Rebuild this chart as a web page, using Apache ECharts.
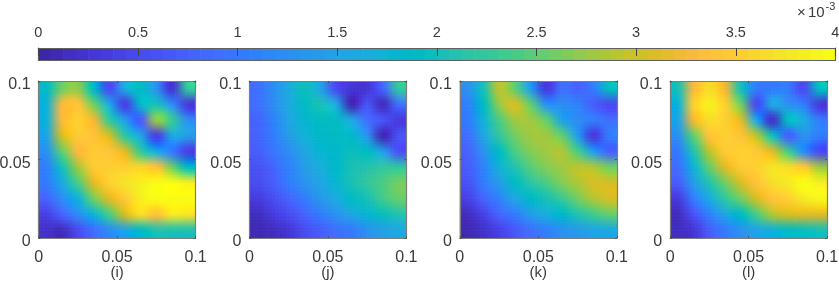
<!DOCTYPE html>
<html>
<head>
<meta charset="utf-8">
<style>html,body{margin:0;padding:0;background:#fff}#c{width:839px;height:281px}</style>
<script src="https://cdn.jsdelivr.net/npm/echarts@6/dist/echarts.min.js"></script>
</head>
<body>
<div id="c"></div>
<script>
// Cell centres (axis units); rows run from the top of the panel down.
const xCenters = [0.005,0.015,0.025,0.035,0.045,0.055,0.065,0.075,0.085,0.095];
const yCenters = [0.095,0.085,0.075,0.065,0.055,0.045,0.035,0.025,0.015,0.005];
const axisTicks = [0,0.05,0.1];
const colorbarTicks = [0,0.5,1,1.5,2,2.5,3,3.5,4];
const panelNames = ['(i)','(j)','(k)','(l)'];

// Values in units of 1e-3.
const panelI = [
[1.9,2.6,2.7,1.9,0.5,1.6,1.9,1.3,0.3,2.2],
[1.7,3.3,3.4,2.6,1.6,0.4,1.8,2.0,1.2,0.35],
[1.7,3.3,3.55,3.2,2.3,1.4,0.7,2.7,2.3,1.2],
[1.5,3.0,3.45,3.4,3.0,2.2,1.5,0.4,1.5,1.4],
[1.3,2.5,3.3,3.45,3.4,3.1,2.3,1.6,1.0,0.4],
[1.1,2.0,2.8,3.45,3.5,3.55,3.6,3.4,2.6,1.9],
[1.0,1.6,2.4,3.1,3.5,3.7,3.85,3.95,3.95,3.85],
[0.8,1.2,1.7,2.6,3.1,3.45,3.85,4.0,4.0,3.95],
[0.4,0.8,1.2,1.7,2.4,3.0,3.65,3.4,3.75,3.7],
[0.2,0.15,0.5,0.9,1.2,1.5,1.9,2.1,2.1,2.1]];
const panelJ = [
[0.9,1.2,1.6,1.95,1.5,0.5,0.3,0.3,0.8,2.2],
[0.9,1.2,1.6,1.9,2.0,1.6,0.1,0.6,0.15,0.9],
[0.8,1.1,1.5,1.8,1.9,1.9,1.5,0.9,0.6,0.35],
[0.75,1.0,1.4,1.7,1.85,1.9,1.85,1.3,0.1,0.6],
[0.7,0.95,1.2,1.5,1.75,1.85,1.95,1.9,1.4,0.6],
[0.6,0.8,1.1,1.4,1.65,1.85,2.0,2.1,2.2,2.2],
[0.5,0.7,1.0,1.25,1.5,1.75,2.0,2.2,2.4,2.6],
[0.35,0.55,0.8,1.05,1.35,1.6,1.9,2.05,2.35,2.55],
[0.15,0.35,0.55,0.8,1.0,1.25,1.5,1.75,1.95,2.1],
[0.1,0.15,0.3,0.5,0.7,0.9,1.05,1.25,1.45,1.6]];
const panelK = [
[1.3,2.0,2.9,2.5,1.4,0.35,0.9,0.8,1.0,1.9],
[1.1,1.9,2.7,3.0,2.5,1.3,1.2,1.1,0.7,0.5],
[1.0,1.7,2.4,2.8,2.8,2.5,1.5,1.2,1.0,0.9],
[0.9,1.5,2.2,2.6,2.75,2.8,2.5,1.4,0.35,1.0],
[0.8,1.3,1.9,2.4,2.65,2.8,2.85,2.4,1.4,0.8],
[0.7,1.1,1.7,2.1,2.45,2.65,2.8,2.9,2.85,2.6],
[0.6,1.0,1.4,1.9,2.15,2.4,2.65,2.85,3.05,3.05],
[0.4,0.75,1.1,1.5,1.85,2.05,2.3,2.6,2.85,3.0],
[0.15,0.4,0.75,1.05,1.4,1.65,1.85,2.1,2.35,2.5],
[0.1,0.2,0.4,0.65,0.9,1.1,1.25,1.4,1.5,1.6]];
const panelL = [
[2.0,3.3,3.65,3.2,2.0,1.0,1.0,1.0,0.5,1.9],
[1.7,3.5,3.85,3.55,2.6,0.5,1.5,1.3,1.0,0.35],
[1.5,3.2,3.65,3.55,3.1,1.5,0.2,1.9,1.6,1.0],
[1.3,2.5,3.4,3.5,3.4,2.9,2.0,0.8,1.3,1.0],
[1.05,2.1,2.9,3.45,3.5,3.45,3.1,2.4,1.2,0.55],
[0.9,1.7,2.5,3.1,3.45,3.55,3.7,3.65,3.45,2.8],
[0.7,1.4,2.1,2.6,3.0,3.4,3.65,3.8,3.95,3.85],
[0.35,1.0,1.6,2.2,2.6,3.0,3.4,3.55,3.8,3.9],
[0.15,0.6,1.1,1.5,1.9,2.4,2.85,3.0,3.1,3.1],
[0.15,0.3,0.7,1.0,1.25,1.5,1.7,1.9,1.95,2.0]];
const panels = [panelI,panelJ,panelK,panelL];

// Colour scale (parula, 64 levels)
const palette = [
[.2422,.1504,.6603],[.2504,.1650,.7076],[.2578,.1818,.7511],[.2647,.1978,.7952],
[.2706,.2147,.8364],[.2751,.2342,.8710],[.2783,.2559,.8991],[.2803,.2782,.9221],
[.2813,.3006,.9414],[.2810,.3228,.9579],[.2795,.3447,.9717],[.2760,.3667,.9829],
[.2699,.3892,.9906],[.2602,.4123,.9952],[.2440,.4358,.9988],[.2206,.4603,.9973],
[.1963,.4847,.9892],[.1834,.5074,.9798],[.1786,.5289,.9682],[.1764,.5499,.9520],
[.1687,.5703,.9359],[.1540,.5902,.9218],[.1460,.6091,.9079],[.1380,.6276,.8973],
[.1248,.6459,.8883],[.1113,.6635,.8763],[.0952,.6798,.8598],[.0689,.6948,.8394],
[.0297,.7082,.8163],[.0036,.7203,.7917],[.0067,.7312,.7660],[.0433,.7411,.7394],
[.0964,.7500,.7120],[.1408,.7584,.6842],[.1717,.7670,.6554],[.1938,.7758,.6251],
[.2161,.7843,.5923],[.2470,.7918,.5567],[.2906,.7973,.5188],[.3406,.8008,.4789],
[.3909,.8029,.4354],[.4456,.8024,.3909],[.5044,.7993,.3480],[.5616,.7942,.3045],
[.6174,.7876,.2612],[.6720,.7793,.2227],[.7242,.7698,.1910],[.7738,.7598,.1646],
[.8203,.7498,.1535],[.8634,.7406,.1596],[.9035,.7330,.1774],[.9393,.7288,.2100],
[.9728,.7298,.2394],[.9956,.7434,.2371],[.9970,.7659,.2199],[.9952,.7893,.2028],
[.9892,.8136,.1885],[.9786,.8386,.1766],[.9676,.8639,.1643],[.9610,.8890,.1537],
[.9597,.9135,.1423],[.9628,.9373,.1265],[.9691,.9606,.1064],[.9769,.9839,.0805]];
const vmax = 4;
function colorOf(v){
  const i = Math.max(0,Math.min(63,Math.floor(v/vmax*64)));
  return palette[i];
}
function css(c){return 'rgb('+Math.round(c[0]*255)+','+Math.round(c[1]*255)+','+Math.round(c[2]*255)+')';}

// Smooth shading of each cell: the image in the original is drawn with
// interpolated pixels, so every data cell paints a fine bicubic RGB gradient
// between the colours of its neighbouring cells.
const SUB = 10;
function cubicWeights(t){
  const t2=t*t,t3=t2*t;
  return [-.5*t3+t2-.5*t, 1.5*t3-2.5*t2+1, -1.5*t3+2*t2+.5*t, .5*t3-.5*t2];
}
function cellRenderer(grid){
  const n = grid.length;
  const colors = grid.map(r=>r.map(colorOf));
  const cl = i=>Math.max(0,Math.min(n-1,i));
  return function(params, api){
    const x = api.value(0), y = api.value(1);
    const r = api.value(3), c = api.value(4);
    const tl = api.coord([x-0.005,y+0.005]);
    const br = api.coord([x+0.005,y-0.005]);
    const w = (br[0]-tl[0])/SUB, h = (br[1]-tl[1])/SUB;
    const children = [];
    for(let j=0;j<SUB;j++){
      const fy = r+(j+.5)/SUB-.5, iy = Math.floor(fy), wy = cubicWeights(fy-iy);
      for(let i=0;i<SUB;i++){
        const fx = c+(i+.5)/SUB-.5, ix = Math.floor(fx), wx = cubicWeights(fx-ix);
        const col=[0,0,0];
        for(let b=0;b<4;b++)for(let a=0;a<4;a++){
          const s = colors[cl(iy+b-1)][cl(ix+a-1)], q = wy[b]*wx[a];
          col[0]+=s[0]*q;col[1]+=s[1]*q;col[2]+=s[2]*q;
        }
        for(let k=0;k<3;k++)col[k]=Math.max(0,Math.min(1,col[k]));
        children.push({type:'rect',
          shape:{x:tl[0]+i*w,y:tl[1]+j*h,width:w+.6,height:h+.6},
          style:{fill:css(col)},silent:true});
      }
    }
    return {type:'group',children};
  };
}

const fontFamily = '"Liberation Sans", Arial, sans-serif';
const textColor = '#3a3a3a';
const frameColor = '#7d7d7d';
const panelLefts = [38.6,249.4,459.8,670.1];
const panelTop = 81, panelSize = 157;

const grids=[], xAxes=[], yAxes=[], series=[];
panels.forEach((grid,p)=>{
  grids.push({left:panelLefts[p],top:panelTop,width:panelSize,height:panelSize,containLabel:false,outerBoundsMode:'none'});
  const gi = grids.length-1;
  const base = {min:0,max:0.1,interval:0.05,gridIndex:gi,type:'value',z:5,
    splitLine:{show:false},
    axisLine:{show:true,onZero:false,lineStyle:{color:frameColor,width:1.2}},
    axisTick:{show:true,inside:true,length:2,lineStyle:{color:'#555',width:1}}};
  const lab = {show:true,fontFamily,fontSize:16,color:textColor,showMinLabel:true,showMaxLabel:true,hideOverlap:false,
    customValues:axisTicks};
  xAxes.push(Object.assign({},base,{position:'bottom',axisLabel:Object.assign({margin:12},lab),
    name:panelNames[p],nameLocation:'middle',nameGap:27,nameMoveOverlap:false,
    nameTextStyle:{fontFamily,fontSize:15,color:textColor}}));
  const xi = xAxes.length-1;
  xAxes.push(Object.assign({},base,{position:'top',axisLabel:{show:false}}));
  yAxes.push(Object.assign({},base,{position:'left',axisLabel:Object.assign({margin:8,verticalAlign:'top',lineHeight:8},lab)}));
  const yi = yAxes.length-1;
  yAxes.push(Object.assign({},base,{position:'right',axisLabel:{show:false}}));
  const data=[];
  yCenters.forEach((y,r)=>xCenters.forEach((x,c)=>data.push([x,y,grid[r][c],r,c])));
  series.push({type:'custom',name:panelNames[p],xAxisIndex:xi,yAxisIndex:yi,z:1,clip:true,silent:true,
    coordinateSystem:'cartesian2d',encode:{x:0,y:1},
    renderItem:cellRenderer(grid),data,animation:false});
});

// Colour bar
grids.push({left:38.4,top:48,width:797,height:12,outerBoundsMode:'none'});
const gb = grids.length-1;
const cbBase = {type:'value',gridIndex:gb,z:5,splitLine:{show:false},
  axisLine:{show:true,onZero:false,lineStyle:{color:'#606060',width:1.2}}};
xAxes.push(Object.assign({},cbBase,{min:0,max:4,interval:0.5,position:'top',
  axisTick:{show:true,inside:true,length:8,lineStyle:{color:'#444',width:1}},
  axisLabel:{show:true,fontFamily,fontSize:14.5,color:textColor,margin:8,showMinLabel:true,showMaxLabel:true,hideOverlap:false,
    customValues:colorbarTicks}}));
const cbx = xAxes.length-1;
xAxes.push(Object.assign({},cbBase,{min:0,max:4,position:'bottom',axisTick:{show:false},axisLabel:{show:false}}));
yAxes.push(Object.assign({},cbBase,{min:0,max:1,position:'left',axisTick:{show:false},axisLabel:{show:false}}));
const cby = yAxes.length-1;
yAxes.push(Object.assign({},cbBase,{min:0,max:1,position:'right',axisTick:{show:false},axisLabel:{show:false}}));
const colorbarLevels = palette.map((_,i)=>[i/64*vmax,(i+1)/64*vmax,i]);
series.push({type:'custom',name:'colorbar',xAxisIndex:cbx,yAxisIndex:cby,z:1,silent:true,
  coordinateSystem:'cartesian2d',encode:{x:[0,1]},data:colorbarLevels,animation:false,
  renderItem:function(params,api){
    const a = api.coord([api.value(0),1]), b = api.coord([api.value(1),0]);
    return {type:'rect',shape:{x:a[0],y:a[1],width:b[0]-a[0]+.6,height:b[1]-a[1]},
      style:{fill:css(palette[api.value(2)])}};
  }});

const chart = echarts.init(document.getElementById('c'),null,{renderer:'canvas'});
chart.setOption({
  animation:false,
  backgroundColor:'#fff',
  grid:grids,xAxis:xAxes,yAxis:yAxes,series,
  graphic:[
    {type:'text',left:797,top:5,silent:true,style:{text:'\u00d7',font:'15px '+fontFamily,fill:textColor}},
    {type:'text',left:808,top:5,silent:true,style:{text:'10',font:'15px '+fontFamily,fill:textColor}},
    {type:'text',left:825.5,top:1,silent:true,style:{text:'-3',font:'11px '+fontFamily,fill:textColor}}
  ]
});
</script>
</body>
</html>
